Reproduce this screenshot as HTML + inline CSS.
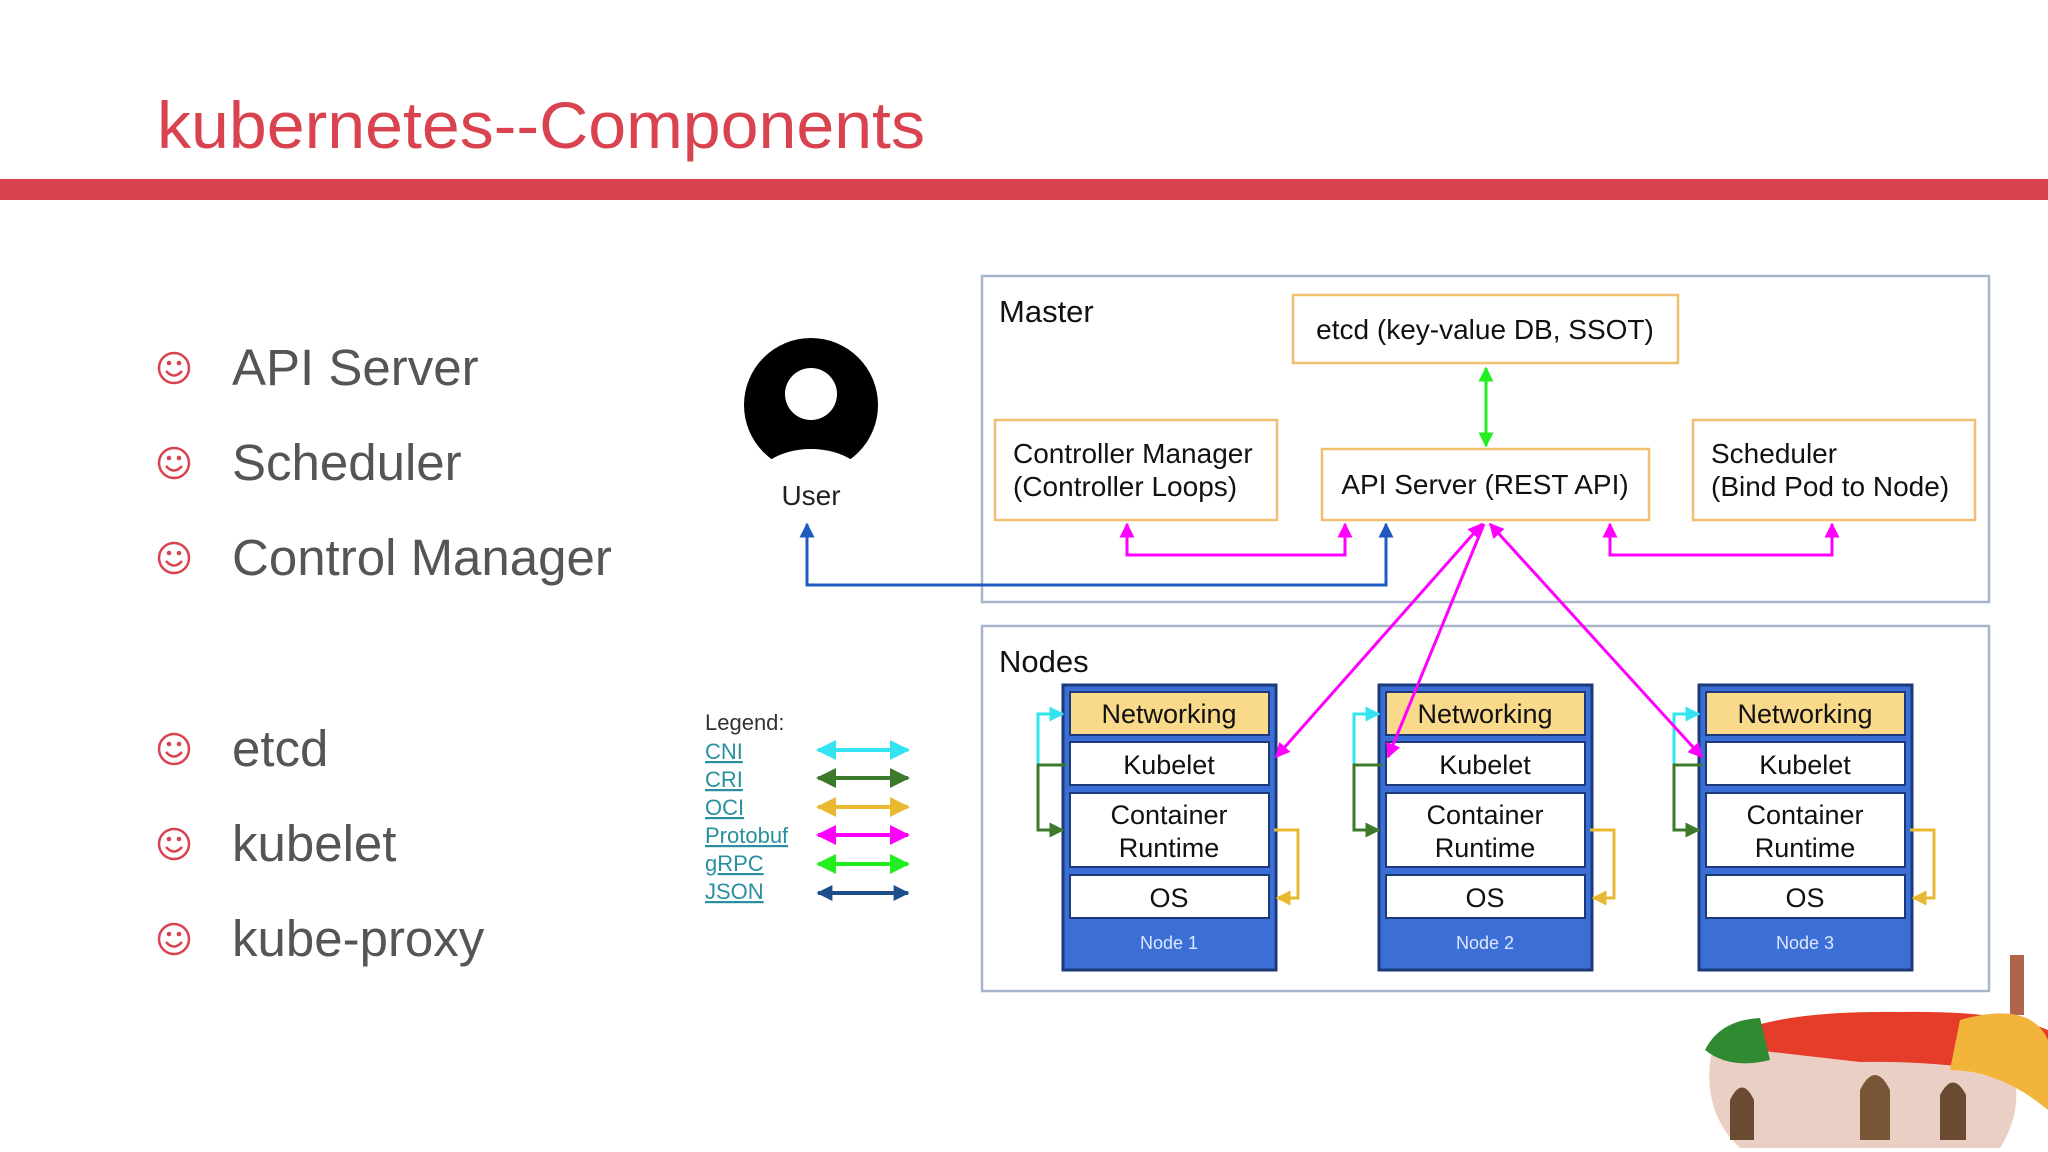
<!DOCTYPE html>
<html><head><meta charset="utf-8"><style>
html,body{margin:0;padding:0;background:#fff;}
svg{display:block;}
text{font-family:"Liberation Sans",Arial,sans-serif;}
</style></head><body>
<svg width="2048" height="1152" viewBox="0 0 2048 1152" xmlns="http://www.w3.org/2000/svg">
<defs>
<marker id="mm" viewBox="0 0 10 10" refX="9" refY="5" markerWidth="5" markerHeight="5" orient="auto-start-reverse"><path d="M0,0 L10,5 L0,10 z" fill="#ff00ff"/></marker>
<marker id="mg" viewBox="0 0 10 10" refX="9" refY="5" markerWidth="5" markerHeight="5" orient="auto-start-reverse"><path d="M0,0 L10,5 L0,10 z" fill="#22ee22"/></marker>
<marker id="mb" viewBox="0 0 10 10" refX="9" refY="5" markerWidth="5" markerHeight="5" orient="auto-start-reverse"><path d="M0,0 L10,5 L0,10 z" fill="#1f5bbf"/></marker>
<marker id="mc" viewBox="0 0 10 10" refX="9" refY="5" markerWidth="5" markerHeight="5" orient="auto-start-reverse"><path d="M0,0 L10,5 L0,10 z" fill="#33e4f0"/></marker>
<marker id="md" viewBox="0 0 10 10" refX="9" refY="5" markerWidth="5" markerHeight="5" orient="auto-start-reverse"><path d="M0,0 L10,5 L0,10 z" fill="#3b7a2a"/></marker>
<marker id="my" viewBox="0 0 10 10" refX="9" refY="5" markerWidth="5" markerHeight="5" orient="auto-start-reverse"><path d="M0,0 L10,5 L0,10 z" fill="#e8b830"/></marker>
<marker id="mj" viewBox="0 0 10 10" refX="9" refY="5" markerWidth="4" markerHeight="4" orient="auto-start-reverse"><path d="M0,0 L10,5 L0,10 z" fill="#1c4f8a"/></marker>
<g id="smile"><circle cx="0" cy="0" r="15" fill="none" stroke="#d9434f" stroke-width="2.5"/><circle cx="-5" cy="-5" r="2.3" fill="#d9434f"/><circle cx="5" cy="-5" r="2.3" fill="#d9434f"/><path d="M-8,3 Q0,12 8,3" fill="none" stroke="#d9434f" stroke-width="2.5"/></g>
</defs>

<text x="157" y="148" font-size="66" fill="#d9434f" textLength="768" lengthAdjust="spacingAndGlyphs">kubernetes--Components</text>
<rect x="0" y="179" width="2048" height="21" fill="#d94350"/>

<g font-size="51" fill="#555">
<use href="#smile" x="174" y="368"/><text x="232" y="385">API Server</text>
<use href="#smile" x="174" y="463"/><text x="232" y="480">Scheduler</text>
<use href="#smile" x="174" y="558"/><text x="232" y="575">Control Manager</text>
<use href="#smile" x="174" y="749"/><text x="232" y="766">etcd</text>
<use href="#smile" x="174" y="844"/><text x="232" y="861">kubelet</text>
<use href="#smile" x="174" y="939"/><text x="232" y="956">kube-proxy</text>
</g>

<circle cx="811" cy="405" r="67" fill="#000"/>
<ellipse cx="811" cy="487" rx="58" ry="38" fill="#fff"/>
<circle cx="811" cy="394" r="36" fill="#000"/>
<circle cx="811" cy="394" r="26" fill="#fff"/>
<text x="811" y="505" font-size="28" fill="#222" text-anchor="middle">User</text>

<rect x="982" y="276" width="1007" height="326" fill="#fff" stroke="#a8b6cc" stroke-width="2.5"/>
<text x="999" y="322" font-size="31" fill="#111">Master</text>
<g fill="#fff" stroke="#f0c070" stroke-width="2.5">
<rect x="1293" y="295" width="385" height="68"/>
<rect x="995" y="420" width="282" height="100"/>
<rect x="1322" y="449" width="327" height="71"/>
<rect x="1693" y="420" width="282" height="100"/>
</g>
<g font-size="28" fill="#111">
<text x="1485" y="339" text-anchor="middle">etcd (key-value DB, SSOT)</text>
<text x="1013" y="463">Controller Manager</text>
<text x="1013" y="496">(Controller Loops)</text>
<text x="1485" y="494" text-anchor="middle">API Server (REST API)</text>
<text x="1711" y="463">Scheduler</text>
<text x="1711" y="496">(Bind Pod to Node)</text>
</g>
<line x1="1486" y1="368" x2="1486" y2="446" stroke="#22ee22" stroke-width="3" marker-start="url(#mg)" marker-end="url(#mg)"/>
<path d="M1127,524 V555 H1345 V524" fill="none" stroke="#ff00ff" stroke-width="3" marker-start="url(#mm)" marker-end="url(#mm)"/>
<path d="M1610,524 V555 H1832 V524" fill="none" stroke="#ff00ff" stroke-width="3" marker-start="url(#mm)" marker-end="url(#mm)"/>
<path d="M807,524 V585 H1386 V524" fill="none" stroke="#1f5bbf" stroke-width="3" marker-start="url(#mb)" marker-end="url(#mb)"/>

<rect x="982" y="626" width="1007" height="365" fill="#fff" stroke="#a8b6cc" stroke-width="2.5"/>
<text x="999" y="672" font-size="31" fill="#111">Nodes</text>

<g id="node1">
<rect x="1063" y="685" width="213" height="285" fill="#3c6fd6" stroke="#1b3a7a" stroke-width="3"/>
<rect x="1070" y="692" width="199" height="43" fill="#f9d98a" stroke="#1b3a7a" stroke-width="2"/>
<rect x="1070" y="742" width="199" height="43" fill="#fff" stroke="#1b3a7a" stroke-width="2"/>
<rect x="1070" y="793" width="199" height="74" fill="#fff" stroke="#1b3a7a" stroke-width="2"/>
<rect x="1070" y="875" width="199" height="43" fill="#fff" stroke="#1b3a7a" stroke-width="2"/>
<g font-size="27" fill="#111" text-anchor="middle">
<text x="1169" y="723">Networking</text>
<text x="1169" y="774">Kubelet</text>
<text x="1169" y="824">Container</text>
<text x="1169" y="857">Runtime</text>
<text x="1169" y="907">OS</text>
</g>
<text x="1169" y="949" font-size="18" fill="#dde6ff" text-anchor="middle">Node 1</text>
<path d="M1066,765 H1038 V714 H1063" fill="none" stroke="#33e4f0" stroke-width="3" marker-end="url(#mc)"/>
<path d="M1066,765 H1038 V830 H1063" fill="none" stroke="#3b7a2a" stroke-width="3" marker-end="url(#md)"/>
<path d="M1274,830 H1298 V898 H1277" fill="none" stroke="#e8b830" stroke-width="3" marker-end="url(#my)"/>
</g>
<use href="#node1" x="316" y="0"/>
<use href="#node1" x="636" y="0"/>
<g font-size="18" fill="#dde6ff" text-anchor="middle">
<rect x="1420" y="930" width="100" height="28" fill="#3c6fd6"/>
<text x="1485" y="949">Node 2</text>
<rect x="1740" y="930" width="100" height="28" fill="#3c6fd6"/>
<text x="1805" y="949">Node 3</text>
</g>

<g stroke="#ff00ff" stroke-width="3" fill="none">
<line x1="1482" y1="524" x2="1276" y2="757" marker-start="url(#mm)" marker-end="url(#mm)"/>
<line x1="1484" y1="524" x2="1388" y2="757" marker-end="url(#mm)"/>
<line x1="1490" y1="524" x2="1702" y2="757" marker-start="url(#mm)" marker-end="url(#mm)"/>
</g>

<g font-size="22">
<text x="705" y="730" fill="#333">Legend:</text>
<g fill="#2a8fa0" text-decoration="underline">
<text x="705" y="759">CNI</text>
<text x="705" y="787">CRI</text>
<text x="705" y="815">OCI</text>
<text x="705" y="843">Protobuf</text>
<text x="705" y="871">gRPC</text>
<text x="705" y="899">JSON</text>
</g>
</g>
<g stroke-width="4">
<line x1="818" y1="750" x2="908" y2="750" stroke="#33e4f0" marker-start="url(#mc)" marker-end="url(#mc)"/>
<line x1="818" y1="778" x2="908" y2="778" stroke="#3b7a2a" marker-start="url(#md)" marker-end="url(#md)"/>
<line x1="818" y1="807" x2="908" y2="807" stroke="#e8b830" marker-start="url(#my)" marker-end="url(#my)"/>
<line x1="818" y1="835" x2="908" y2="835" stroke="#ff00ff" marker-start="url(#mm)" marker-end="url(#mm)"/>
<line x1="818" y1="864" x2="908" y2="864" stroke="#22ee22" marker-start="url(#mg)" marker-end="url(#mg)"/>
<line x1="818" y1="893" x2="908" y2="893" stroke="#1c4f8a" marker-start="url(#mj)" marker-end="url(#mj)"/>
</g>

<g>
<rect x="2010" y="955" width="14" height="60" fill="#b0654a"/>
<path d="M1712,1050 Q1700,1110 1740,1148 L2000,1148 Q2030,1100 2005,1050 Q1860,1035 1712,1050 Z" fill="#ead0c4"/>
<path d="M1712,1045 Q1760,1010 1900,1012 Q2000,1010 2048,1030 L2048,1080 Q1950,1060 1860,1062 Z" fill="#e63c2a"/>
<path d="M1705,1050 Q1720,1020 1760,1018 L1770,1060 Q1730,1070 1705,1050 Z" fill="#2f8a32"/>
<path d="M1960,1020 Q2030,1000 2048,1040 L2048,1110 Q2000,1070 1950,1070 Z" fill="#f2b53a"/>
<path d="M1730,1140 V1100 Q1742,1075 1754,1100 V1140 Z" fill="#6b4a32"/>
<path d="M1860,1140 V1090 Q1875,1060 1890,1090 V1140 Z" fill="#7a5638"/>
<path d="M1940,1140 V1095 Q1953,1070 1966,1095 V1140 Z" fill="#6b4a32"/>
</g>
</svg>
</body></html>
